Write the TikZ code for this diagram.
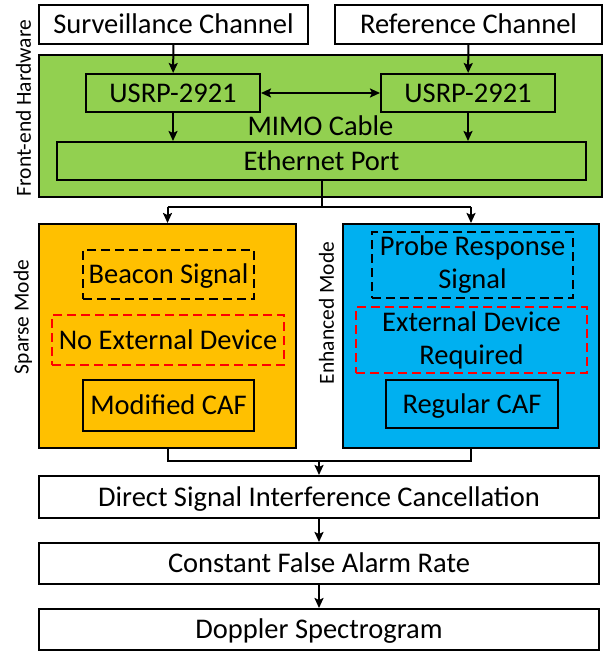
\documentclass[tikz,border=0pt]{standalone}
\usepackage{fontspec}
\setmainfont{Carlito}
\usetikzlibrary{arrows.meta}

\definecolor{hwgreen}{HTML}{92D050}
\definecolor{sparseorange}{HTML}{FFC000}
\definecolor{enhblue}{HTML}{00B0F0}

\begin{document}
\begin{tikzpicture}[x=1pt,y=-1pt,
  framed/.style={draw, line width=2pt, inner sep=0pt, align=center,
    font=\fontsize{28.5}{33}\selectfont},
  block/.style={framed, text height=18.5pt, text depth=0pt},
  dashblock/.style={block, dash pattern=on 9pt off 5pt},
  reddash/.style={dashblock, draw=red},
  twoline/.style={framed, dash pattern=on 9pt off 5pt},
  sidelabel/.style={rotate=90, inner sep=0pt, font=\fontsize{21.5}{26}\selectfont},
  link/.style={line width=2pt},
  >={Stealth[length=10pt,width=9pt,inset=2pt]}]
  \useasboundingbox (0,0) rectangle (609,652);

  % Input channels
  \node[block, minimum width=269, minimum height=39] (surv) at (173.5,24.5) {Surveillance Channel};
  \node[block, minimum width=267, minimum height=39] (ref) at (468.5,24.5) {Reference Channel};

  % Front-end hardware
  \node[block, fill=hwgreen, minimum width=563, minimum height=142] (hw) at (320.5,126) {};
  \node[block, minimum width=174, minimum height=38] (usrpa) at (173,93) {USRP-2921};
  \node[block, minimum width=174, minimum height=38] (usrpb) at (468,93) {USRP-2921};
  \node[block, minimum width=529, minimum height=38] (eth) at (321.5,161) {Ethernet Port};
  \node[sidelabel] (hwlabel) at (23.5,108) {Front-end Hardware};

  % Sparse mode
  \node[block, fill=sparseorange, minimum width=257, minimum height=224] (sparse) at (167.5,336) {};
  \node[dashblock, minimum width=171, minimum height=49] (beacon) at (168.5,274.5) {Beacon Signal};
  \node[reddash, minimum width=232, minimum height=50] (noext) at (168,340) {No External Device};
  \node[block, minimum width=171, minimum height=51] (mcaf) at (168.5,405.5) {Modified CAF};
  \node[sidelabel] (sparselabel) at (23,317) {Sparse Mode};

  % Enhanced mode
  \node[block, fill=enhblue, minimum width=256, minimum height=224] (enh) at (471,336) {};
  \node[twoline, minimum width=201, minimum height=66] (probe) at (472.5,265) {Probe Response\\Signal};
  \node[twoline, draw=red, minimum width=231, minimum height=66] (extreq) at (471.5,340) {External Device\\Required};
  \node[block, minimum width=172, minimum height=48] (rcaf) at (472,404) {Regular CAF};
  \node[sidelabel] (enhlabel) at (326.5,313) {Enhanced Mode};

  % Processing chain
  \node[block, minimum width=560, minimum height=42] (dsic) at (319,497) {Direct Signal Interference Cancellation};
  \node[block, minimum width=560, minimum height=41] (cfar) at (319,563.5) {Constant False Alarm Rate};
  \node[block, minimum width=560, minimum height=41] (dopp) at (319,629.5) {Doppler Spectrogram};

  % Connectors
  \draw[link,->] (surv) -- (usrpa);
  \draw[link,->] (ref) -- (usrpb);
  \draw[link,<->] (usrpa) -- (usrpb)
    node[midway, yshift=-33pt, font=\fontsize{28.5}{33}\selectfont] (mimo) {MIMO Cable};
  \draw[link,->] (usrpa.south) -- (usrpa.south |- eth.north);
  \draw[link,->] (usrpb.south) -- (usrpb.south |- eth.north);

  \coordinate (split) at (321,207);
  \draw[link] (eth.south) -- (eth.south |- split);
  \draw[link,->] (sparse.north |- split) -- (sparse.north);
  \draw[link,->] (enh.north |- split) -- (enh.north);
  \draw[link] (sparse.north |- split) -- (enh.north |- split);

  \coordinate (merge) at (319,461);
  \draw[link] (sparse.south) |- (merge) -| (enh.south);
  \draw[link,->] (merge) -- (dsic.north);

  \foreach \a/\b in {dsic/cfar, cfar/dopp} {
    \draw[link,->] (\a) -- (\b);
  }
\end{tikzpicture}
\end{document}
